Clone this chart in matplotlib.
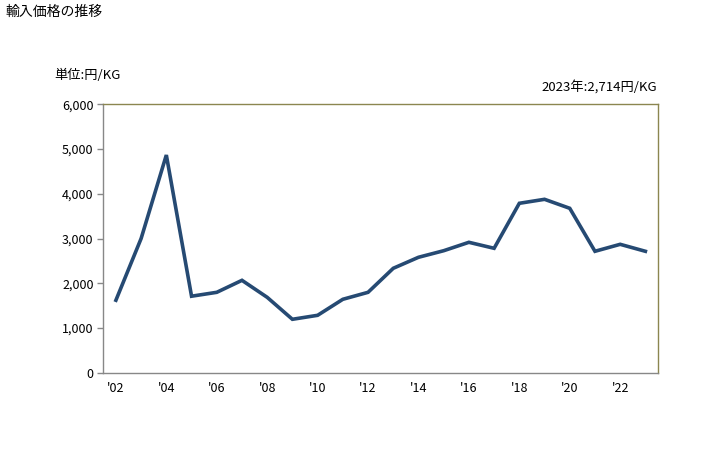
import matplotlib
matplotlib.use("Agg")
import matplotlib.pyplot as plt
from matplotlib.ticker import FuncFormatter

plt.rcParams['font.family'] = ['Noto Sans CJK JP', 'DejaVu Sans']

years = list(range(2002, 2024))
prices = [1620, 3000, 4866, 1710, 1797, 2065, 1685, 1194, 1283, 1641, 1797,
          2334, 2580, 2727, 2915, 2781, 3787, 3876, 3675, 2714, 2870, 2714]
tick_years = list(range(2002, 2024, 2))
tick_labels = ["'%02d" % (y % 100) for y in tick_years]

fig = plt.figure(figsize=(7.28, 4.5), dpi=100)
ax = fig.add_axes([103.3 / 728, 1 - 372.7 / 450, 554.7 / 728, 268.4 / 450])

ax.plot(years, prices, color="#264a73", linewidth=2.6, solid_joinstyle="miter")

ax.set_xlim(2001.5, 2023.5)
ax.set_ylim(0, 6000)
ax.set_yticks(range(0, 6001, 1000))
ax.yaxis.set_major_formatter(FuncFormatter(lambda v, p: f"{int(v):,}"))
ax.set_xticks(tick_years)
ax.set_xticklabels(tick_labels)
ax.tick_params(axis="y", length=4, width=1, color="#888888", labelsize=9, pad=3)
ax.tick_params(axis="x", length=0, labelsize=9, pad=7)

for s in ["left", "bottom"]:
    ax.spines[s].set_color("#888888")
for s in ["top", "right"]:
    ax.spines[s].set_color("#8b8650")
for s in ax.spines.values():
    s.set_linewidth(1)

fig.text(5 / 728, 1 - 12 / 450, "輸入価格の推移", fontsize=10, va="center", ha="left")
fig.text(54 / 728, 1 - 75 / 450, "単位:円/KG", fontsize=9.5, va="center", ha="left")
fig.text(657 / 728, 1 - 87 / 450, "2023年:2,714円/KG", fontsize=9.5, va="center", ha="right")

fig.savefig("out.png", dpi=100)
